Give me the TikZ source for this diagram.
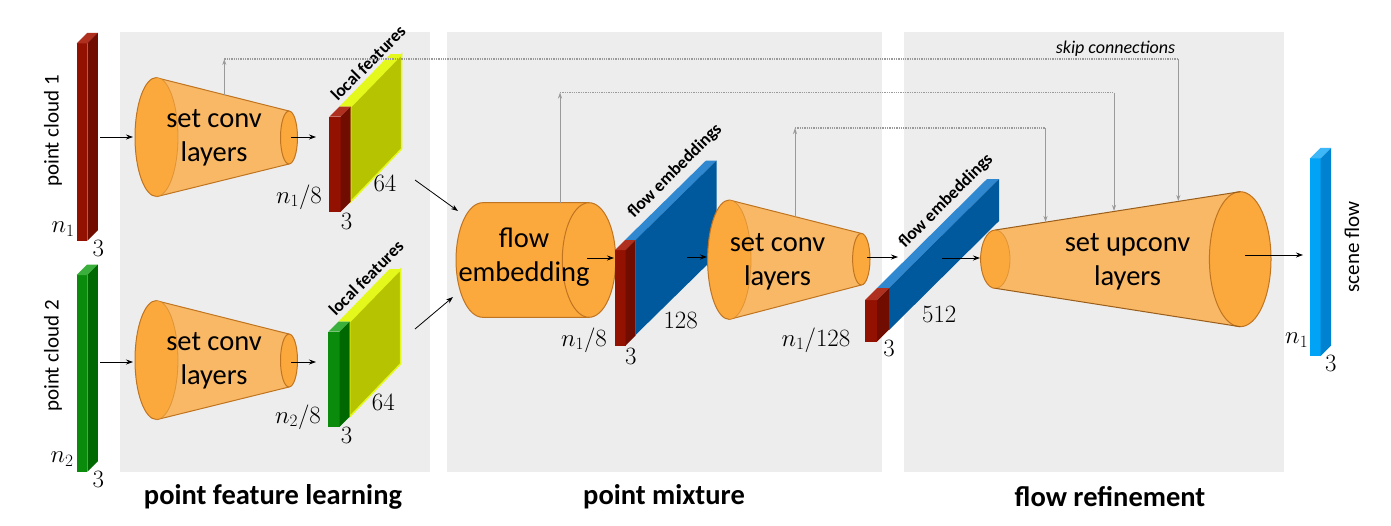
\documentclass[tikz,border=0pt]{standalone}
\usepackage{fontspec}
\setmainfont{Carlito}
\usetikzlibrary{arrows.meta}
\definecolor{panelbg}{HTML}{EDEDED}
\definecolor{ofront}{HTML}{FBA93D}
\definecolor{obody}{HTML}{F8B865}
\definecolor{oedge}{HTML}{C07420}
\definecolor{rfront}{HTML}{921100}
\definecolor{rside}{HTML}{700C00}
\definecolor{rtop}{HTML}{B0301F}
\definecolor{gfront}{HTML}{0B8B0B}
\definecolor{gside}{HTML}{006800}
\definecolor{gtop}{HTML}{3BAF3B}
\definecolor{yside}{HTML}{B5C300}
\definecolor{ytop}{HTML}{E5F81C}
\definecolor{bside}{HTML}{00599D}
\definecolor{btop}{HTML}{2F88D0}
\definecolor{lfront}{HTML}{00A3F5}
\definecolor{lside}{HTML}{0082D0}
\definecolor{ltop}{HTML}{3DB7F7}
\definecolor{skipc}{HTML}{9A9A9A}
% front-face slab: x y w h depth front side top
\newcommand{\slab}[8]{%
  \fill[#6] (#1,#2) rectangle ++(#3,#4);
  \fill[#8] (#1,#2) -- ++(#5,-#5) -- ++(#3,0) -- ++(-#5,#5) -- cycle;
  \fill[#7] (#1+#3,#2) -- ++(#5,-#5) -- ++(0,#4) -- ++(-#5,#5) -- cycle;
}
% end face of a cone whose right half is seen through: cx cy rx ry
\newcommand{\backface}[4]{%
  \fill[ofront] (#1,#2) ellipse [x radius=#3pt, y radius=#4pt];
  \draw[edge] (#1,#2-#4) arc[start angle=90, end angle=270, x radius=#3pt, y radius=#4pt];
  \draw[edge, draw opacity=0.45, line width=0.8pt] (#1,#2-#4) arc[start angle=90, end angle=-90, x radius=#3pt, y radius=#4pt];
}
\begin{document}
\begin{tikzpicture}[x=1pt,y=-1pt,
  panel/.style={fill=panelbg},
  lbl/.style={font=\fontsize{28.5}{34}\selectfont, align=center, inner sep=0pt},
  ttl/.style={font=\fontsize{28.5}{34}\selectfont\bfseries, inner sep=0pt},
  dimlbl/.style={font=\fontsize{23.5}{24}\selectfont, inner sep=0pt},
  sidelbl/.style={font=\fontsize{21}{22}\selectfont, rotate=90, inner sep=0pt},
  tag/.style={font=\fontsize{17.5}{18}\selectfont\bfseries, rotate=45, inner sep=0pt},
  flowarrow/.style={-{Stealth[length=7pt,width=5pt]}, line width=0.8pt, black},
  skipv/.style={-{Stealth[length=6pt,width=4pt]}, skipc, line width=0.9pt},
  skiph/.style={skipc, line width=1.3pt, densely dotted},
  edge/.style={draw=oedge, line width=1pt}
]
\useasboundingbox (0,0) rectangle (1391,525);

% panels
\fill[panel] (120,32) rectangle (430,472);
\fill[panel] (447,32) rectangle (882,472);
\fill[panel] (904,32) rectangle (1284,472);

% titles
\node[ttl] (t1) at (273,497) {point feature learning};
\node[ttl] (t2) at (664,497) {point mixture};
\node[ttl] (t3) at (1110,497) {flow refinement};

% point clouds
\slab{76.7}{43.3}{10.6}{197.4}{10.5}{rfront}{rside}{rtop}
\slab{76.7}{275}{10.6}{196.7}{10.5}{gfront}{gside}{gtop}
\node[sidelbl] (pc1lbl) at (53,131) {point cloud 1};
\node[sidelbl] (pc2lbl) at (53,356) {point cloud 2};
\node[dimlbl] (pc1n) at (63,229) {$n_1$};
\node[dimlbl] (pc1d) at (98.3,248) {$3$};
\node[dimlbl] (pc2n) at (62,459) {$n_2$};
\node[dimlbl] (pc2d) at (98.3,479) {$3$};

% set conv cones (point feature learning)
\foreach \dy in {0,223}{
  \begin{scope}[shift={(0,\dy)}]
    \fill[obody] (156.5,77.7) -- (289,111) -- (289,164) -- (156.5,196.7) -- cycle;
    \draw[edge] (156.5,77.7) -- (289,111);
    \draw[edge] (156.5,196.7) -- (289,164);
    \backface{156.5}{137}{21.5}{59.5}
    \filldraw[fill=ofront, edge] (289,137.5) ellipse [x radius=8.5pt, y radius=26.5pt];
  \end{scope}
}
\node[lbl] (conv1) at (214,138) {set conv\\layers};
\node[lbl] (conv2) at (214,361) {set conv\\layers};

% local feature blocks
\fill[ytop] (339.3,106.7) -- (350.7,106.7) -- (401.7,54.2) -- (390.3,54.2) -- cycle;
\filldraw[fill=yside, draw=ytop, line width=1.5pt] (350.7,106.7) -- (401.7,54.2) -- (401.7,148.7) -- (350.7,201.7) -- cycle;
\slab{329.3}{116.7}{11.4}{95}{10}{rfront}{rside}{rtop}
\begin{scope}[shift={(-1,215)}]
\fill[ytop] (339.3,106.7) -- (350.7,106.7) -- (401.7,54.2) -- (390.3,54.2) -- cycle;
\filldraw[fill=yside, draw=ytop, line width=1.5pt] (350.7,106.7) -- (401.7,54.2) -- (401.7,148.7) -- (350.7,201.7) -- cycle;
\slab{329.3}{116.7}{11.4}{95}{10}{gfront}{gside}{gtop}
\end{scope}
\node[tag] (lf1) at (368,63) {local features};
\node[tag] (lf2) at (366,278) {local features};
\node[dimlbl] (b1n) at (299,197) {$n_1/8$};
\node[dimlbl] (b1d) at (346.7,221.7) {$3$};
\node[dimlbl] (b1c) at (385,183.3) {$64$};
\node[dimlbl] (b2n) at (298,417) {$n_2/8$};
\node[dimlbl] (b2d) at (346.7,435) {$3$};
\node[dimlbl] (b2c) at (383.3,402.7) {$64$};

% flow embedding cylinder
\fill[ofront] (482.7,260) ellipse [x radius=26.7pt, y radius=57.3pt];
\fill[ofront] (482.7,202.7) rectangle (589,317.3);
\draw[edge] (589,202.7) -- (482.7,202.7) arc[start angle=90, end angle=270, x radius=26.7pt, y radius=57.3pt] -- (589,317.3);
\filldraw[fill=ofront, edge] (589,260) ellipse [x radius=26.7pt, y radius=57.3pt];
\node[lbl] (femb) at (524,257.5) {flow\\embedding};

% flow embeddings block 1
\fill[btop] (625,240) -- (635.5,240) -- (716.5,160.5) -- (706,160.5) -- cycle;
\fill[bside] (635.5,240) -- (716.5,160.5) -- (716.5,255.5) -- (635.5,335) -- cycle;
\coordinate (fembin) at (587,258);
\coordinate (fembout) at (614,258);
\draw[flowarrow] (fembin) -- (fembout);
\slab{615}{250}{10.5}{95.7}{10}{rfront}{rside}{rtop}
\node[tag] (fe1) at (675,171) {flow embeddings};
\node[dimlbl] (fe1n) at (584,340) {$n_1/8$};
\node[dimlbl] (fe1d) at (630.7,356.7) {$3$};
\node[dimlbl] (fe1c) at (680.7,320) {$128$};

% set conv cone (point mixture)
\fill[obody] (729.3,200) -- (861.3,233.4) -- (861.3,285) -- (729.3,319.4) -- cycle;
\draw[edge] (729.3,200) -- (861.3,233.4);
\draw[edge] (729.3,319.4) -- (861.3,285);
\backface{729.3}{259.7}{21.7}{59.7}
\filldraw[fill=ofront, edge] (861.3,259.2) ellipse [x radius=8.7pt, y radius=25.8pt];
\node[lbl] (conv3) at (777.5,261.7) {set conv\\layers};

% flow embeddings block 2
\fill[btop] (877,288) -- (889,288) -- (999,179) -- (987,179) -- cycle;
\fill[bside] (889,288) -- (999,179) -- (999,221) -- (889,330) -- cycle;
\slab{865}{300}{12}{41.7}{12}{rfront}{rside}{rtop}
\node[tag] (fe2) at (946,201) {flow embeddings};
\node[dimlbl] (fe2n) at (816,340) {$n_1/128$};
\node[dimlbl] (fe2d) at (889,348.3) {$3$};
\node[dimlbl] (fe2c) at (939.3,314) {$512$};

% set upconv cone
\fill[obody] (995.3,230) -- (1240.2,191.7) -- (1240.2,326.7) -- (995.3,288.3) -- cycle;
\backface{995.3}{259.2}{14.7}{29.2}
\filldraw[fill=ofront, edge] (1240.2,259.2) ellipse [x radius=30.8pt, y radius=67.5pt];
\draw[edge, draw=oedge!80!black] (995.3,230) -- (1240.2,191.7);
\draw[edge, draw=oedge!80!black] (995.3,288.3) -- (1240.2,326.7);
\node[lbl] (upconv) at (1127.5,261.7) {set upconv\\layers};

% scene flow
\slab{1310}{158.3}{10.7}{197.7}{10.5}{lfront}{lside}{ltop}
\node[sidelbl] (sflbl) at (1352,247) {scene flow};
\node[dimlbl] (sfn) at (1296.7,340) {$n_1$};
\node[dimlbl] (sfd) at (1330.7,363.3) {$3$};

% main arrows
\coordinate (a1s) at (100,137); \coordinate (a1e) at (133,137);
\coordinate (a2s) at (291,137); \coordinate (a2e) at (316,137);
\coordinate (a3s) at (100,362); \coordinate (a3e) at (133,362);
\coordinate (a4s) at (291,362); \coordinate (a4e) at (316,362);
\coordinate (a5s) at (415,180); \coordinate (a5e) at (458,211);
\coordinate (a6s) at (415,329); \coordinate (a6e) at (453,297);
\coordinate (a7s) at (687,257); \coordinate (a7e) at (707,257);
\coordinate (a8s) at (867,257); \coordinate (a8e) at (898,257);
\coordinate (a9s) at (942,258); \coordinate (a9e) at (980,258);
\coordinate (a10s) at (1245,255); \coordinate (a10e) at (1303,255);
\foreach \i in {1,...,10}{\draw[flowarrow] (a\i s) -- (a\i e);}

% skip connections
\coordinate (s1a) at (224.3,94.7); \coordinate (s1b) at (224.3,59); \coordinate (s1c) at (1178.3,59); \coordinate (s1d) at (1178.3,201);
\coordinate (s2a) at (560,202.7); \coordinate (s2b) at (560,92.5); \coordinate (s2c) at (1114,92.5); \coordinate (s2d) at (1114,211);
\coordinate (s3a) at (795,216.6); \coordinate (s3b) at (795,128); \coordinate (s3c) at (1045.5,128); \coordinate (s3d) at (1045.5,222);
\foreach \i in {1,2,3}{
  \draw[skipv] (s\i a) -- (s\i b);
  \draw[skiph] (s\i b) -- (s\i c);
  \draw[skipv] (s\i c) -- (s\i d);
}
\node[font=\fontsize{18}{18}\selectfont\itshape, inner sep=0pt] (skiplbl) at (1115.5,49) {skip connections};
\end{tikzpicture}
\end{document}
